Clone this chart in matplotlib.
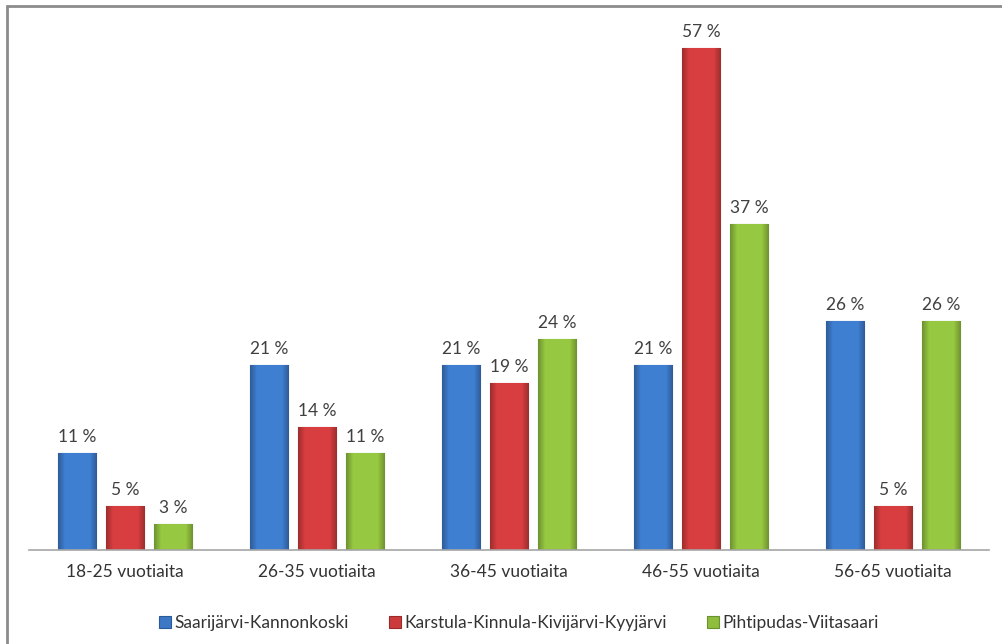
import matplotlib
matplotlib.use("Agg")
import matplotlib.pyplot as plt
import numpy as np
from matplotlib.patches import Rectangle
from matplotlib.colors import to_rgb

categories = ["18-25 vuotiaita", "26-35 vuotiaita", "36-45 vuotiaita", "46-55 vuotiaita", "56-65 vuotiaita"]
series_names = ["Saarijärvi-Kannonkoski", "Karstula-Kinnula-Kivijärvi-Kyyjärvi", "Pihtipudas-Viitasaari"]
saarijarvi = [11, 21, 21, 21, 26]
karstula = [5, 14, 19, 57, 5]
pihtipudas = [3, 11, 24, 37, 26]

colors = ["#3c78c6", "#cc3b3c", "#8fbd3e"]
edges = ["#2a5a9a", "#9a2a2a", "#6a9030"]

plt.rcParams['font.family'] = ['Lato', 'DejaVu Sans']
FS = 12.5
fig = plt.figure(figsize=(10.03, 6.44), dpi=100)
fig.patches.append(Rectangle((7/1003, -0.1), 1.2, (644-6)/644 + 0.1, transform=fig.transFigure,
                             fill=False, edgecolor="#8c8c8c", linewidth=2))
ax = fig.add_axes([29/1003, 94/644, 960/1003, 528.6/644])

x = np.arange(len(categories))
w = 0.203
step = 0.25
data = [saarijarvi, karstula, pihtipudas]
profile = np.concatenate([np.linspace(0.78, 1.06, 8), np.full(24, 1.06), np.linspace(1.06, 0.78, 8)])
for i, (vals, c, e, name) in enumerate(zip(data, colors, edges, series_names)):
    pos = x + (i - 1) * step
    bars = ax.bar(pos, vals, width=w, color=c, edgecolor=e, linewidth=0.8, label=name, zorder=2)
    rgb = np.array(to_rgb(c))
    img = np.clip(profile[None, :, None] * rgb[None, None, :], 0, 1)
    for b in bars:
        x0 = b.get_x()
        im = ax.imshow(img, extent=(x0, x0 + b.get_width(), 0, b.get_height()), aspect="auto",
                       zorder=2.1, interpolation="bilinear")
        im.set_clip_path(b)
    for p, v in zip(pos, vals):
        ax.text(p, v + 0.9, f"{v} %", ha="center", va="bottom", fontsize=FS, color="#404040")

ax.set_xlim(-0.5, 4.5)
ax.set_ylim(0, 60)
ax.set_xticks(x)
ax.set_xticklabels(categories, fontsize=FS, color="#333333")
ax.tick_params(axis="x", length=0, pad=10)
ax.set_yticks([])
for s in ["top", "right", "left"]:
    ax.spines[s].set_visible(False)
ax.spines["bottom"].set_color("#a6a6a6")
ax.spines["bottom"].set_linewidth(1.2)

leg = fig.legend(loc="center", bbox_to_anchor=(519/1003, 1 - 623/644), ncol=3, frameon=False,
                 fontsize=FS, handlelength=0.7, handleheight=0.7, handletextpad=0.2, columnspacing=2.3)
for t in leg.get_texts():
    t.set_color("#333333")

fig.savefig("out.png", dpi=100)
